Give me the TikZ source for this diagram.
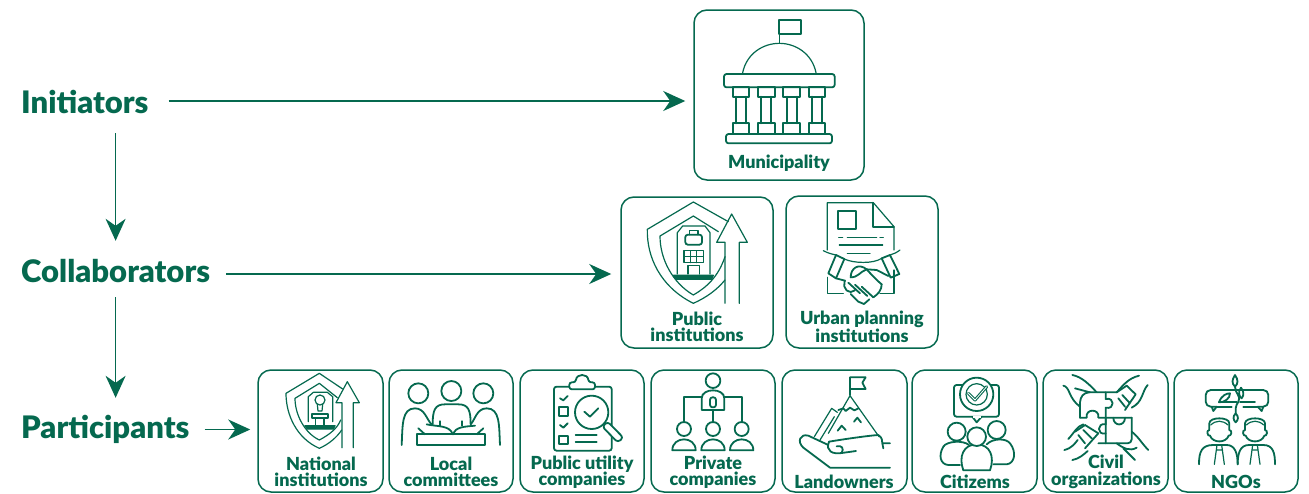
\documentclass[tikz,border=0pt]{standalone}
\usepackage{fontspec}
\setmainfont{Lato}[BoldFont={Lato Black}]
\usetikzlibrary{arrows.meta}
\definecolor{gr}{HTML}{05694F}
\tikzset{
  x=1pt,y=-1pt,
  cardbox/.style={draw=gr,line width=1.5pt,rounded corners=13pt,inner sep=0pt,fill=white},
  flowarr/.style={draw=gr,line width=1.7pt,-{Stealth[length=22pt,width=20pt,inset=7pt]}},
  head/.style={inner sep=0pt,text=gr,font=\fontsize{31}{31}\selectfont\bfseries,text height=24pt,text depth=0pt,anchor=base west},
  lab/.style={inner sep=0pt,text=gr,align=center,font=\fontsize{18}{16.5}\selectfont\bfseries},
  ic/.style={draw=gr,line width=1.2pt,line join=round,line cap=round},
  th/.style={draw=gr,line width=1.8pt,line join=round,line cap=round},
  rr/.style={rounded corners=2.5pt},
}
\newcommand{\cardnode}[5]{\node[cardbox,minimum width=#3pt-#1pt,minimum height=#4pt-#2pt] (#5) at ({(#1+#3)/2},{(#2+#4)/2}) {};}
\begin{document}
\begin{tikzpicture}
\useasboundingbox (0,0) rectangle (1309,493);
% cards
\cardnode{694}{10}{864}{180}{muni}
\cardnode{621}{197}{773}{348}{pub}
\cardnode{786}{196}{938}{348}{urb}
\cardnode{258}{370}{383}{492}{nat}
\cardnode{389}{370}{513}{492}{loc}
\cardnode{520}{370}{644}{492}{util}
\cardnode{651}{370}{775}{492}{priv}
\cardnode{782}{370}{907}{492}{land}
\cardnode{912}{370}{1037}{492}{citi}
\cardnode{1043}{370}{1168}{492}{civ}
\cardnode{1174}{370}{1298}{492}{ngo}
% headings
\node[head] (ini) at (21,113) {Initiators};
\node[head] (col) at (21,282) {Collaborators};
\node[head] (par) at (21,438) {Participants};
% connectors
\draw[flowarr,shorten <=20pt,shorten >=8pt] (ini.east) -- (ini.east -| muni.west);
\draw[flowarr,shorten <=16pt,shorten >=9pt] ([yshift=-4pt]col.east) -- ([yshift=-4pt]col.east -| pub.west);
\draw[flowarr,shorten <=15pt,shorten >=7pt] ([yshift=-3.5pt]par.east) -- ([yshift=-3.5pt]par.east -| nat.west);
\draw[flowarr,shorten <=20pt,shorten >=17pt] (col.north |- ini.south) -- (col.north);
\draw[flowarr,shorten <=15pt,shorten >=16pt] (col.south) -- (col.south |- par.north);
% Municipality
\begin{scope}[shift={(680,0)},scale=1/3]
\draw[th] (298,60) rectangle (364,102);
\draw[ic] (298,60) -- (298,130);
\draw[ic] (188,218) .. controls (200,160) and (250,130) .. (298,130) .. controls (346,130) and (396,160) .. (408,218);
\draw[th,rr] (132,222) rectangle (464,262);
\draw[th,rr] (138,402) rectangle (456,430);
\foreach \a in {158,234,310,386}{
 \draw[th] (\a,262) rectangle (\a+50,290);
 \draw[th] (\a,370) rectangle (\a+50,402);
 \draw[th] (\a+10,290) -- (\a+10,370) (\a+40,290) -- (\a+40,370);
}
\end{scope}
% Public institutions
\begin{scope}[shift={(610,190)},scale=1/3]
\draw[ic] (355,95) -- (250,36) -- (112,118) .. controls (110,200) and (150,290) .. (250,340) .. controls (290,322) and (320,300) .. (345,270);
\draw[ic] (325,125) -- (250,78) -- (150,138) .. controls (150,210) and (190,280) .. (250,315) .. controls (290,292) and (325,260) .. (345,200);
\draw[ic] (345,340) -- (345,157) -- (320,157) -- (365,72) -- (412,157) -- (388,157) -- (388,340);
\draw[ic] (202,252) -- (202,128) -- (218,108) -- (285,108) -- (300,128) -- (300,252);
\draw[th,rr] (226,134) rectangle (276,164);
\draw[ic] (238,134) -- (238,122) -- (264,122) -- (264,134);
\draw[ic] (222,182) rectangle (280,218) (241,182) -- (241,218) (260,182) -- (260,218) (222,200) -- (280,200);
\draw[ic] (234,252) -- (234,226) -- (268,226) -- (268,252);
\draw[ic,fill=gr] (190,256) -- (310,256) -- (305,268) -- (197,268) -- cycle;
\end{scope}
% Urban planning
\begin{scope}[shift={(610,190)},scale=1/3]
\draw[ic] (652,180) -- (652,38) -- (790,38) -- (852,110) -- (852,180);
\draw[th] (790,38) -- (790,110) -- (852,110);
\draw[th] (684,62) rectangle (738,116);
\draw[ic] (686,142) -- (698,142) (712,142) -- (800,142) (810,142) -- (820,142) (688,165) -- (818,165) (712,190) -- (780,190);
\draw[th] (678,195) -- (703,207) -- (678,265) -- (655,250) -- cycle;
\draw[th] (815,205) -- (840,195) -- (868,252) -- (842,263) -- cycle;
\draw[ic] (640,182) .. controls (655,190) and (665,192) .. (678,195);
\draw[ic] (703,207) .. controls (730,220) and (790,222) .. (815,205);
\draw[ic] (840,195) .. controls (850,192) and (860,188) .. (870,180);
\draw[ic] (652,262) -- (652,310) -- (700,310) (852,240) -- (852,310) -- (810,310);
\draw[th] (722,262) .. controls (722,235) and (745,218) .. (770,238) .. controls (785,255) and (805,275) .. (815,283);
\draw[th] (722,262) .. controls (745,262) and (750,245) .. (770,238);
\draw[th] (835,258) -- (800,240) -- (770,238);
\draw[th] (678,265) -- (705,272);
\draw[th,rounded corners=5pt] (705,272) -- (698,290) -- (722,312) -- (735,300);
\draw[th] (715,278) -- (750,310) (735,284) -- (772,318) (755,290) -- (790,322);
\draw[th] (722,312) -- (745,335) -- (762,342) -- (778,328) (790,322) .. controls (805,312) and (815,300) .. (815,283);
\end{scope}
% National institutions
\begin{scope}[shift={(250,365)},scale=1/3]
\draw[ic] (278,72) -- (208,25) -- (108,85) .. controls (108,150) and (140,220) .. (208,250) .. controls (235,238) and (260,218) .. (275,195);
\draw[ic] (262,98) -- (208,55) -- (135,100) .. controls (135,150) and (165,205) .. (208,225) .. controls (240,208) and (262,190) .. (272,165);
\draw[ic] (276,248) -- (276,113) -- (258,113) -- (292,50) -- (328,113) -- (310,113) -- (310,248);
\draw[ic] (175,170) -- (175,95) -- (190,82) -- (232,82) -- (248,95) -- (248,170);
\draw[ic] (210,105) circle (15);
\draw[ic] (202,118) -- (204,138) -- (216,138) -- (218,118);
\draw[th] (185,148) rectangle (235,158);
\draw[ic] (197,158) -- (197,180) (222,158) -- (222,180);
\draw[ic,fill=gr] (165,182) -- (255,182) -- (250,192) -- (172,192) -- cycle;
\end{scope}
% Local committees
\begin{scope}[shift={(250,365)},scale=1/3]
\draw[th] (505,85) circle (30) (604,78) circle (30) (700,85) circle (30);
\draw[th] (455,240) .. controls (458,180) and (455,130) .. (495,130) .. controls (525,130) and (530,165) .. (545,178);
\draw[th] (548,178) .. controls (548,135) and (555,118) .. (585,118) -- (625,118) .. controls (655,118) and (662,135) .. (662,178);
\draw[th] (750,240) .. controls (747,180) and (750,130) .. (710,130) .. controls (680,130) and (675,165) .. (662,178);
\draw[th] (500,208) rectangle (706,240);
\draw[th] (505,190) -- (525,208) (700,190) -- (680,208);
\draw[th] (530,178) .. controls (560,185) and (600,180) .. (608,208);
\draw[th] (675,182) .. controls (645,185) and (615,185) .. (610,208);
\draw[ic] (570,168) -- (570,182) (636,168) -- (636,182);
\end{scope}
% Public utility
\begin{scope}[shift={(515,365)},scale=1/3]
\draw[th,rr] (117,65) rectangle (290,257);
\draw[th,fill=white,rr] (163,73) -- (163,52) -- (182,52) .. controls (185,25) and (218,25) .. (221,52) -- (240,52) -- (240,73) -- cycle;
\draw[th] (135,100) -- (145,106) -- (158,93) (135,180) -- (145,188) -- (158,175);
\draw[th] (133,125) rectangle (160,152) (133,212) rectangle (160,238);
\draw[th] (182,210) -- (245,210) (182,232) -- (245,232);
\draw[th,fill=white] (230,142) circle (50);
\draw[th] (208,140) -- (225,155) -- (250,130);
\draw[th,fill=white,rounded corners=3pt] (262,185) -- (278,170) -- (325,218) -- (308,232) -- cycle;
\end{scope}
% Private companies
\begin{scope}[shift={(515,365)},scale=1/3]
\draw[th] (594,47) circle (22);
\draw[th] (560,135) -- (560,100) .. controls (560,68) and (628,68) .. (628,100) -- (628,135) -- cycle;
\draw[th,rr] (585,97) rectangle (603,127);
\draw[th] (560,95) -- (507,95) -- (507,172) (628,95) -- (680,95) -- (680,172) (594,135) -- (594,172);
\foreach \a in {507,594,680}{
 \draw[th] (\a,192) circle (21);
 \draw[th] (\a-35,256) .. controls (\a-35,212) and (\a+35,212) .. (\a+35,256) -- cycle;
}
\end{scope}
% Landowners
\begin{scope}[shift={(775,365)},scale=1/3]
\draw[th] (225,90) -- (225,37) -- (272,37) -- (262,53) -- (272,72) -- (225,72);
\draw[ic] (225,92) -- (312,215) (225,92) -- (160,205);
\draw[th] (190,135) -- (205,130) -- (212,138) -- (225,128) -- (238,136) -- (250,130);
\draw[th] (188,197) -- (200,182) -- (212,195) (237,170) -- (247,158) -- (258,172);
\draw[ic] (118,215) -- (170,130) -- (187,142) (135,225) -- (178,155);
\draw[th] (345,308) -- (165,308) -- (85,248) .. controls (65,230) and (75,205) .. (100,212) -- (160,240);
\draw[th] (162,230) .. controls (210,222) and (280,212) .. (310,210) .. controls (322,218) and (322,228) .. (322,235) -- (345,235) (322,235) -- (325,250);
\draw[th] (162,230) .. controls (150,260) and (175,268) .. (200,264) .. controls (208,250) and (200,240) .. (185,244);
\draw[th] (200,264) -- (243,258);
\end{scope}
% Citizems
\begin{scope}[shift={(775,365)},scale=1/3]
\draw[th,rr] (537,60) rectangle (672,155);
\draw[th,fill=white] (592,155) -- (605,172) -- (620,155);
\draw[draw=white,line width=2pt] (595,155) -- (617,155);
\draw[th,fill=white] (605,88) circle (50);
\draw[ic] (605,88) circle (32);
\draw[th,line width=3pt] (580,85) -- (600,105) -- (635,65);
\draw[draw=white,line width=.8pt] (580,85) -- (600,105) -- (635,65);
\draw[th] (555,300) -- (520,300) .. controls (495,298) and (490,270) .. (505,245) .. controls (515,228) and (565,225) .. (582,240);
\draw[th] (655,298) -- (695,298) .. controls (720,295) and (725,260) .. (705,235) .. controls (695,220) and (655,218) .. (635,238);
\draw[th,fill=white] (545,200) circle (27) (665,195) circle (27);
\draw[th,fill=white] (565,316) .. controls (550,275) and (565,238) .. (605,238) .. controls (645,238) and (660,275) .. (645,316) -- cycle;
\draw[th,fill=white] (605,215) circle (28);
\end{scope}
% Civil organizations
\begin{scope}[shift={(1035,365)},scale=1/3]
\draw[th,rounded corners=4pt] (135,158) -- (135,100) -- (150,82) -- (245,82);
\draw[th,rounded corners=4pt] (290,158) -- (290,235) -- (190,235);
\draw[th] (135,158) -- (155,158) .. controls (150,130) and (195,130) .. (190,158) -- (290,158);
\draw[th] (212,82) -- (212,102) .. controls (240,95) and (240,135) .. (212,128) -- (212,235);
\draw[th] (212,158) -- (212,178) .. controls (185,172) and (185,212) .. (212,205);
\draw[th] (235,158) .. controls (235,185) and (270,185) .. (270,158);
\draw[th] (112,30) .. controls (140,35) and (165,60) .. (185,82);
\draw[th] (85,62) .. controls (105,65) and (100,100) .. (135,125);
\draw[th] (120,70) -- (165,82);
\draw[th] (245,82) .. controls (265,60) and (280,40) .. (312,32);
\draw[th] (338,60) .. controls (320,80) and (325,110) .. (290,128);
\draw[th] (245,82) -- (275,62) -- (302,88) -- (270,135) (250,100) -- (270,125) (262,90) -- (285,115);
\draw[th] (100,222) .. controls (120,200) and (125,185) .. (145,178);
\draw[th] (120,200) -- (150,180) -- (190,205) -- (150,250) (130,210) -- (150,235) (145,195) -- (170,220);
\draw[th] (88,255) .. controls (110,250) and (120,235) .. (128,225);
\draw[th] (112,285) .. controls (130,282) and (145,270) .. (158,258);
\draw[th] (245,235) .. controls (265,250) and (285,260) .. (305,248);
\draw[th] (290,200) .. controls (310,215) and (320,235) .. (340,255);
\draw[th] (265,250) -- (300,285);
\end{scope}
% NGOs
\begin{scope}[shift={(1035,365)},scale=1/3]
\draw[th,rounded corners=5pt] (545,125) -- (512,125) -- (512,75) -- (700,75) -- (700,125) -- (668,125);
\draw[th] (545,125) -- (535,138) -- (530,125) (668,125) -- (680,138) -- (685,125);
\draw[th] (545,125) -- (590,125) (625,125) -- (668,125);
\draw[th] (600,30) .. controls (590,45) and (590,55) .. (600,65) .. controls (610,55) and (610,45) .. (600,30);
\draw[th] (600,65) .. controls (600,85) and (620,95) .. (610,110) .. controls (600,125) and (602,135) .. (602,145);
\draw[th] (618,68) .. controls (608,80) and (612,95) .. (620,100) .. controls (628,90) and (626,78) .. (618,68);
\draw[th] (552,112) .. controls (560,90) and (575,85) .. (585,85) .. controls (585,100) and (570,112) .. (552,112);
\draw[th] (552,112) -- (605,112) (615,112) -- (660,112);
\draw[th] (602,145) .. controls (592,155) and (595,165) .. (602,172) .. controls (610,165) and (612,155) .. (602,145);
\foreach \a in {553,660}{
 \draw[th] (\a-30,175) .. controls (\a-30,155) and (\a+30,155) .. (\a+30,175) -- (\a+30,195) .. controls (\a+40,195) and (\a+36,215) .. (\a+28,212) .. controls (\a+20,235) and (\a-20,235) .. (\a-28,212) .. controls (\a-36,215) and (\a-40,195) .. (\a-30,195) -- cycle;
 \draw[ic] (\a-26,180) .. controls (\a-10,165) and (\a+10,165) .. (\a+26,180);
 \draw[ic] (\a-7,240) -- (\a-15,298) (\a+7,240) -- (\a+15,298) (\a-9,255) -- (\a+9,255);
}
\draw[th] (492,298) .. controls (492,260) and (500,240) .. (535,240) -- (575,240) .. controls (600,240) and (608,265) .. (608,298);
\draw[th] (608,298) .. controls (608,265) and (615,240) .. (642,240) -- (685,240) .. controls (715,240) and (720,265) .. (720,298);
\end{scope}
% labels
\node[lab] (lmuni) at (779,163) {Municipality};
\node[lab] (lpub) at (697,327) {Public\\institutions};
\node[lab] (lurb) at (862,327) {Urban planning\\institutions};
\node[lab] (lnat) at (321,472) {National\\institutions};
\node[lab] (lloc) at (451,472) {Local\\committees};
\node[lab] (lutil) at (582,472) {Public utility\\companies};
\node[lab] (lpriv) at (713,472) {Private\\companies};
\node[lab] (lland) at (844,482) {Landowners};
\node[lab] (lciti) at (975,482) {Citizems};
\node[lab] (lciv) at (1106,472) {Civil\\organizations};
\node[lab] (lngo) at (1236,482) {NGOs};
\end{tikzpicture}
\end{document}
